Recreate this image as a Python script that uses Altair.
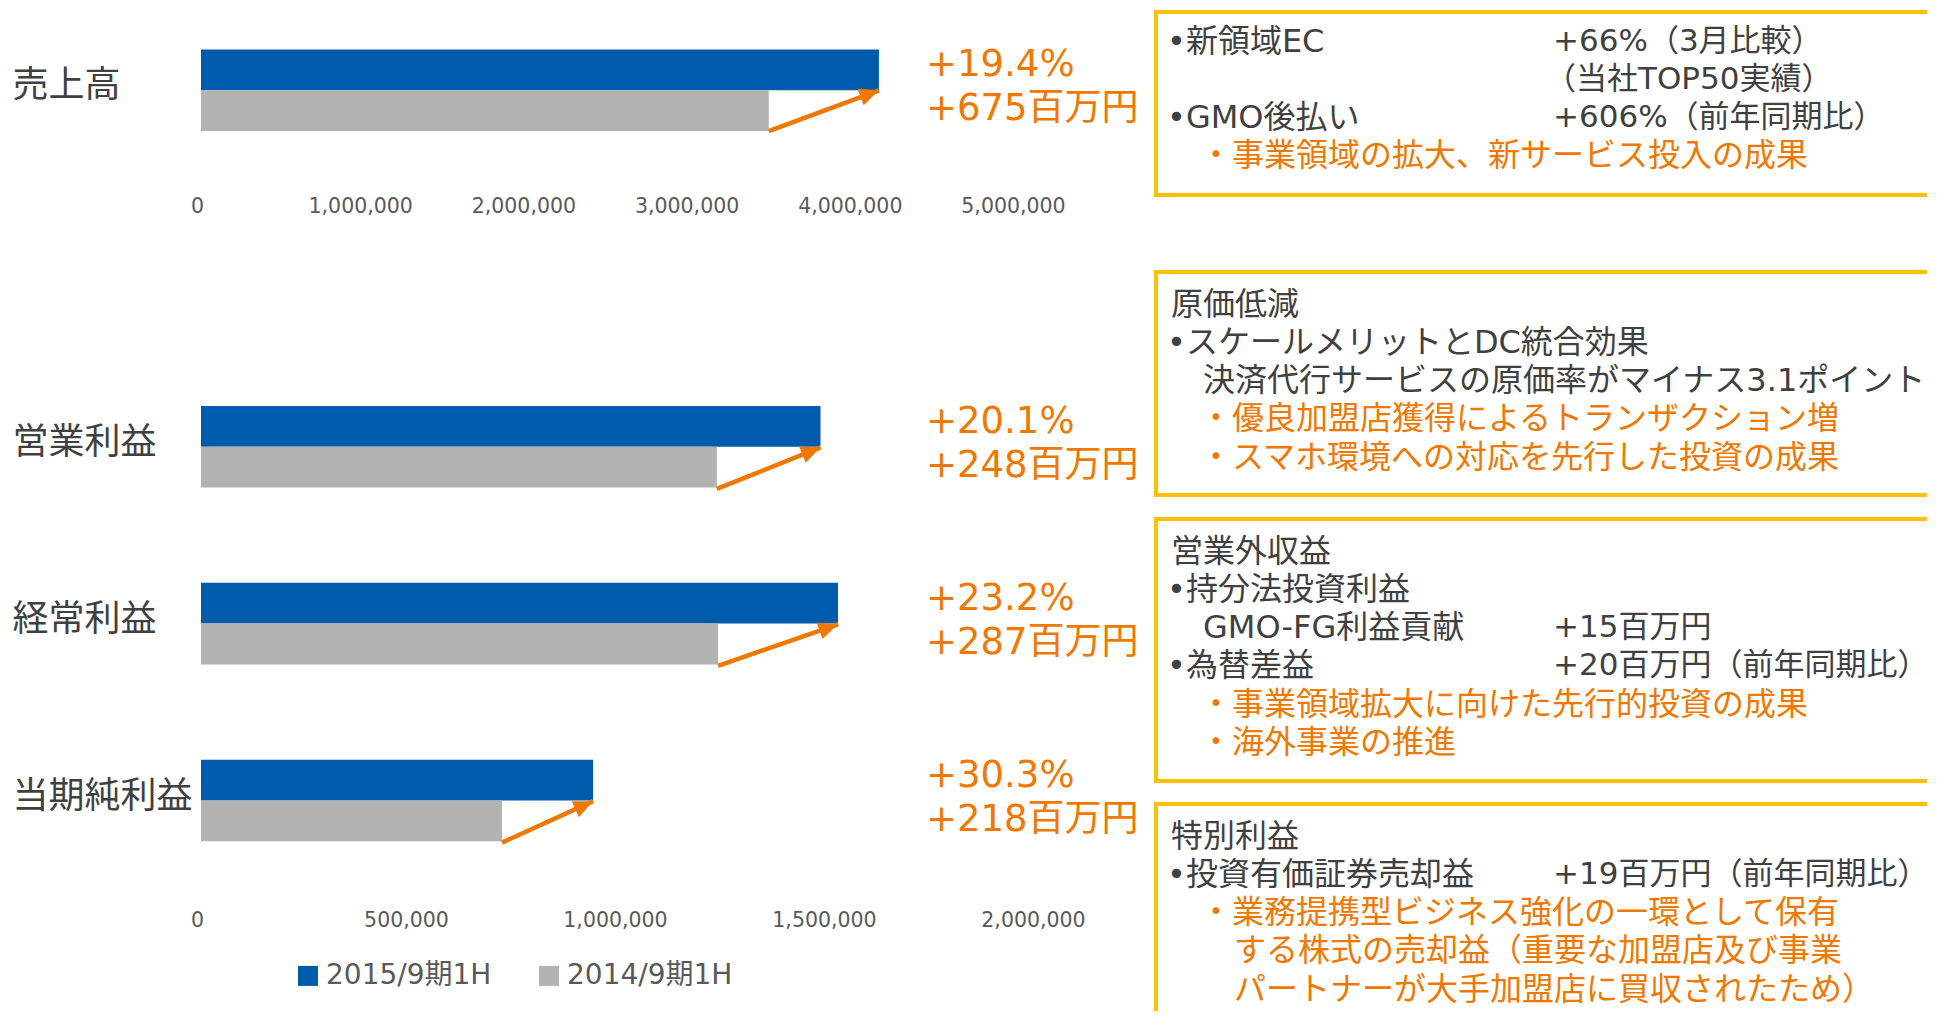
import altair as alt
import pandas as pd

# ---------------- data (values in thousand yen) ----------------
series = ["2015/9期1H", "2014/9期1H"]

top_categories = ["売上高"]
top_fy2015 = [4154000]
top_fy2014 = [3479000]
top_growth_pct = ["+19.4%"]
top_growth_amt = ["+675百万円"]
top_ticks = [0, 1000000, 2000000, 3000000, 4000000, 5000000]

bottom_categories = ["営業利益", "経常利益", "当期純利益"]
bottom_fy2015 = [1482000, 1524000, 938000]
bottom_fy2014 = [1234000, 1237000, 720000]
bottom_growth_pct = ["+20.1%", "+23.2%", "+30.3%"]
bottom_growth_amt = ["+248百万円", "+287百万円", "+218百万円"]
bottom_ticks = [0, 500000, 1000000, 1500000, 2000000]

box1_lines = [
    ("main", "•新領域EC", "+66%（3月比較）"),
    ("main", "", "（当社TOP50実績）"),
    ("main", "•GMO後払い", "+606%（前年同期比）"),
    ("note", "・事業領域の拡大、新サービス投入の成果", ""),
]
box2_lines = [
    ("main", "原価低減", ""),
    ("main", "•スケールメリットとDC統合効果", ""),
    ("sub", "決済代行サービスの原価率がマイナス3.1ポイント", ""),
    ("note", "・優良加盟店獲得によるトランザクション増", ""),
    ("note", "・スマホ環境への対応を先行した投資の成果", ""),
]
box3_lines = [
    ("main", "営業外収益", ""),
    ("main", "•持分法投資利益", ""),
    ("sub", "GMO-FG利益貢献", "+15百万円"),
    ("main", "•為替差益", "+20百万円（前年同期比）"),
    ("note", "・事業領域拡大に向けた先行的投資の成果", ""),
    ("note", "・海外事業の推進", ""),
]
box4_lines = [
    ("main", "特別利益", ""),
    ("main", "•投資有価証券売却益", "+19百万円（前年同期比）"),
    ("note", "・業務提携型ビジネス強化の一環として保有", ""),
    ("cont", "する株式の売却益（重要な加盟店及び事業", ""),
    ("cont", "パートナーが大手加盟店に買収されたため）", ""),
]

# ---------------- styles ----------------
BLUE = "#005BAC"
GRAY = "#B2B2B2"
ORANGE = "#F07800"
GOLD = "#FFC000"
DARK = "#404040"
AXIS_GRAY = "#595959"
FONT = "'DejaVu Sans', 'Noto Sans CJK JP', sans-serif"
ARROW_PATH = "M0,0L-2,-0.9L-2,0.9Z"


def bar_layers(cats, fy15, fy14, pct, amt, xmax, ticks, width, pad_in, pad_out, band,
               x_label_pad, legend):
    bars_df = pd.DataFrame({
        "cat": cats + cats,
        "series": [series[0]] * len(cats) + [series[1]] * len(cats),
        "value": fy15 + fy14,
    })
    chg_df = pd.DataFrame({"cat": cats, "new": fy15, "old": fy14, "pct": pct, "amt": amt})

    y_scale = alt.Scale(domain=cats, paddingInner=pad_in, paddingOuter=pad_out)
    y_axis = alt.Axis(labelAlign="left", labelPadding=189, labelFontSize=36, labelColor=DARK,
                      domain=False, ticks=False, tickSize=0, labelOffset=-4, labelLimit=400,
                      labelBaseline="middle", title=None)
    x_scale = alt.Scale(domain=[0, xmax], nice=False, zero=True)
    x_axis = alt.Axis(values=ticks, format=",d", labelFontSize=20.5, labelColor=AXIS_GRAY,
                      domain=False, ticks=False, tickSize=0, grid=False, labelPadding=x_label_pad,
                      labelFlush=False, labelBaseline="middle", labelOverlap=False,
                      labelOffset=-4, title=None)

    bars = alt.Chart(bars_df).mark_bar().encode(
        x=alt.X("value:Q", scale=x_scale, axis=x_axis, title=None),
        y=alt.Y("cat:N", scale=y_scale, axis=y_axis, title=None),
        yOffset=alt.YOffset("series:N", sort=series,
                            scale=alt.Scale(domain=series, paddingInner=0, paddingOuter=0)),
        color=alt.Color("series:N", scale=alt.Scale(domain=series, range=[BLUE, GRAY]),
                        legend=legend),
    )
    arrow = alt.Chart(chg_df).mark_rule(color=ORANGE, strokeWidth=4.5).encode(
        x=alt.X("old:Q", scale=x_scale, axis=x_axis, title=None),
        x2=alt.X2("new"),
        y=alt.Y("cat:N", scale=y_scale, axis=y_axis, title=None, bandPosition=1),
        y2=alt.Y2(field="cat", bandPosition=0.5),
    )
    head = alt.Chart(chg_df).transform_calculate(
        ang=f"360 - atan2({band / 2}, (datum.new - datum.old) * {width} / {xmax}) * 180 / PI"
    ).mark_point(shape=ARROW_PATH, filled=True, size=380, color=ORANGE, opacity=1,
                 strokeWidth=0).encode(
        x=alt.X("new:Q", scale=x_scale, axis=x_axis, title=None),
        y=alt.Y("cat:N", scale=y_scale, axis=y_axis, title=None),
        angle=alt.Angle("ang:Q", scale=None),
    )
    pct_text = alt.Chart(chg_df).mark_text(align="left", baseline="middle", fontSize=37,
                                           color=ORANGE, dy=-25).encode(
        x=alt.value(725),
        y=alt.Y("cat:N", scale=y_scale, axis=y_axis, title=None),
        text="pct:N",
    )
    amt_text = alt.Chart(chg_df).mark_text(align="left", baseline="middle", fontSize=37,
                                           color=ORANGE, dy=19).encode(
        x=alt.value(725),
        y=alt.Y("cat:N", scale=y_scale, axis=y_axis, title=None),
        text="amt:N",
    )
    return [bars, arrow, head, pct_text, amt_text]


# ---------------- right-hand annotation boxes (drawn relative to top panel origin) ----------------
X0 = 939            # left edge of the annotation column, from the top plot's left edge
RIGHT_W = 787
RIGHT_H = 1008
BOX_TOPS = [4, 264, 511, 796]
BOX_BOTTOMS = [187, 487, 773, 0]

rows = []
for b, lines in enumerate([box1_lines, box2_lines, box3_lines, box4_lines]):
    for i, (level, left_txt, right_txt) in enumerate(lines):
        if left_txt:
            rows.append({"box": b, "line": i, "level": level, "col": "left", "text": left_txt})
        if right_txt:
            rows.append({"box": b, "line": i, "level": level, "col": "right", "text": right_txt})
text_df = pd.DataFrame(rows)

top_expr = " : ".join(f"datum.box == {k} ? {t}" for k, t in enumerate(BOX_TOPS[:-1])) + f" : {BOX_TOPS[-1]}"
base = alt.Chart(text_df).transform_calculate(
    py=f"({top_expr}) + (datum.box == 0 ? 29.5 : 32.5) + datum.line * 38.3",
    px=f"{X0} + (datum.col == 'right' ? (indexof(datum.text, '（') == 0 ? 405 : 413) : "
       "datum.level == 'sub' ? 63 : datum.level == 'note' ? 60 : "
       "datum.level == 'cont' ? 94 : (indexof(datum.text, '•') == 0 ? 27 : 31))",
)
left_text = base.transform_filter("datum.col == 'left' && (datum.level == 'main' || datum.level == 'sub')").mark_text(
    align="left", baseline="middle", fontSize=32, color=DARK).encode(
    x=alt.X("px:Q", scale=None), y=alt.Y("py:Q", scale=None), text="text:N")
right_text = base.transform_filter("datum.col == 'right'").mark_text(
    align="left", baseline="middle", fontSize=31, color=DARK).encode(
    x=alt.X("px:Q", scale=None), y=alt.Y("py:Q", scale=None), text="text:N")
orange_text = base.transform_filter("datum.level == 'note' || datum.level == 'cont'").mark_text(
    align="left", baseline="middle", fontSize=32, color=ORANGE).encode(
    x=alt.X("px:Q", scale=None), y=alt.Y("py:Q", scale=None), text="text:N")

one = pd.DataFrame({"k": [0]})
frames = []
for top, bottom in zip(BOX_TOPS, BOX_BOTTOMS):
    frames.append(alt.Chart(one).mark_rule(color=GOLD, strokeWidth=4).encode(
        x=alt.value(X0 + 14), x2=alt.value(X0 + RIGHT_W), y=alt.value(top)))
    frames.append(alt.Chart(one).mark_rule(color=GOLD, strokeWidth=4).encode(
        x=alt.value(X0 + 16), y=alt.value(top),
        y2=alt.value(bottom if bottom else RIGHT_H - 5)))
    if bottom:
        frames.append(alt.Chart(one).mark_rule(color=GOLD, strokeWidth=4).encode(
            x=alt.value(X0 + 14), x2=alt.value(X0 + RIGHT_W), y=alt.value(bottom)))

# ---------------- panels ----------------
TOP_H = 164.6
top_layers = bar_layers(top_categories, top_fy2015, top_fy2014, top_growth_pct, top_growth_amt,
                        5000000, top_ticks, 816, 0, 0.5086, 81.6, 34, None)
top_panel = alt.layer(*top_layers, *frames, left_text, right_text, orange_text).properties(
    width=816, height=TOP_H)

legend = alt.Legend(orient="none", legendX=93, legendY=609, direction="horizontal", title=None,
                    symbolType="square", symbolSize=400, symbolStrokeWidth=0,
                    labelFontSize=28, labelColor=AXIS_GRAY, labelOffset=4, columnPadding=43,
                    padding=0, labelLimit=400)
bottom_layers = bar_layers(bottom_categories, bottom_fy2015, bottom_fy2014, bottom_growth_pct,
                           bottom_growth_amt, 2000000, bottom_ticks, 836, 0.5307, 0.3, 83, 25,
                           legend)
bottom_panel = alt.layer(*bottom_layers).properties(width=836, height=542.8)

chart = alt.vconcat(top_panel, bottom_panel, spacing=344.5 - TOP_H, bounds="flush").resolve_scale(
    x="independent", y="independent", color="independent").properties(
    padding={"left": 4, "top": 0, "right": 0, "bottom": 0}
).configure(font=FONT, background="white").configure_view(stroke=None)

chart.save("out.html", embed_options={"renderer": "svg", "actions": False})
